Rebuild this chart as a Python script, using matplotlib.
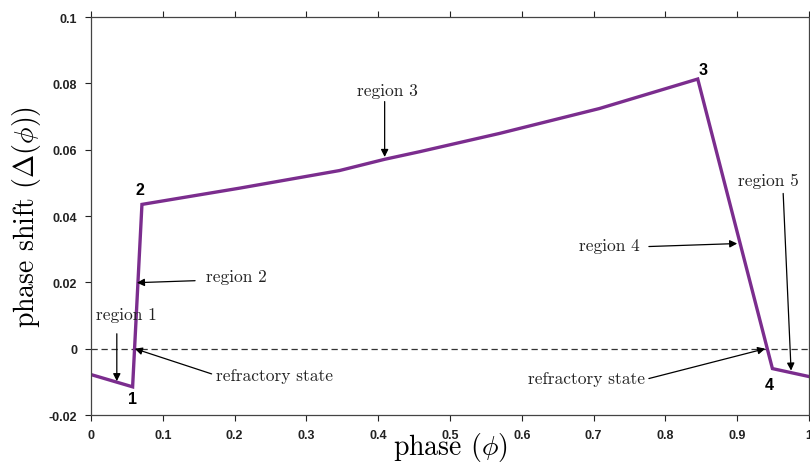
import matplotlib
matplotlib.use("Agg")
import matplotlib.pyplot as plt

# phase response curve, piecewise with a bowed middle section
phase = [0.0, 0.058, 0.071, 0.207, 0.346, 0.409, 0.458, 0.569, 0.708, 0.845, 0.949, 1.0]
shift = [-0.0078, -0.0115, 0.0435, 0.0484, 0.0537, 0.0571, 0.0594, 0.0649, 0.0724,
         0.0813, -0.0060, -0.0084]

# numbered corner points: (label, phase, shift)
corners = [("1", 0.058, -0.0150), ("2", 0.068, 0.0480),
           ("3", 0.853, 0.0843), ("4", 0.944, -0.0108)]

# annotations: (text, text pos, ha, arrow tail, arrow tip)
notes = [
    ("region 1", (0.050, 0.0103), "center", (0.036, 0.0045), (0.036, -0.0098)),
    ("region 2", (0.160, 0.0217), "left", (0.145, 0.0205), (0.064, 0.0199)),
    ("refractory state", (0.174, -0.0081), "left", (0.168, -0.0076), (0.061, 0.0)),
    ("region 3", (0.413, 0.0778), "center", (0.409, 0.0745), (0.409, 0.0578)),
    ("region 4", (0.764, 0.0311), "right", (0.777, 0.0308), (0.900, 0.0317)),
    ("region 5", (0.943, 0.0507), "center", (0.964, 0.0468), (0.975, -0.0066)),
    ("refractory state", (0.772, -0.0090), "right", (0.777, -0.0090), (0.939, 0.0)),
]

xticks = [0, 0.1, 0.2, 0.3, 0.4, 0.5, 0.6, 0.7, 0.8, 0.9, 1]
yticks = [-0.02, 0, 0.02, 0.04, 0.06, 0.08, 0.1]

plt.rcParams["mathtext.fontset"] = "cm"
serif = "cmr10"

fig = plt.figure(figsize=(8.1, 4.64), dpi=100)
ax = fig.add_axes([0.1123, 0.1034, 0.8865, 0.8578])

ax.axhline(0, color="#333333", lw=0.9, ls=(0, (5, 3)))
ax.plot(phase, shift, color="#7B2D8E", lw=2.4, solid_joinstyle="miter")

for lab, x, y in corners:
    ax.text(x, y, lab, ha="center", va="center", fontsize=11.5,
            fontweight="bold", family="Liberation Sans")

for txt, pos, ha, tail, tip in notes:
    ax.text(pos[0], pos[1], txt, ha=ha, va="center", fontsize=12.5,
            family=serif, color="#222222")
    ax.annotate("", xy=tip, xytext=tail,
                arrowprops=dict(arrowstyle="-|>", color="black", lw=0.9,
                                mutation_scale=11, shrinkA=0, shrinkB=0))

ax.set_xlim(0, 1)
ax.set_ylim(-0.02, 0.1)
ax.set_xticks(xticks)
ax.set_xticklabels([f"{v:g}" for v in xticks])
ax.set_yticks(yticks)
ax.set_yticklabels([f"{v:g}" for v in yticks])
ax.tick_params(axis="both", direction="out", length=4, width=0.8,
               top=True, labelsize=9, colors="#222222", pad=6)
ax.tick_params(axis="y", right=True)
for lbl in ax.get_xticklabels() + ax.get_yticklabels():
    lbl.set_fontweight("bold")
    lbl.set_family("Liberation Sans")
for sp in ax.spines.values():
    sp.set_color("#444444")
    sp.set_linewidth(0.9)

ax.set_xlabel(r"phase $(\phi)$", fontsize=20, family=serif, labelpad=-8)
ax.set_ylabel(r"phase shift $(\Delta(\phi))$", fontsize=20, family=serif,
              labelpad=4)

fig.savefig("out.png", dpi=100)
